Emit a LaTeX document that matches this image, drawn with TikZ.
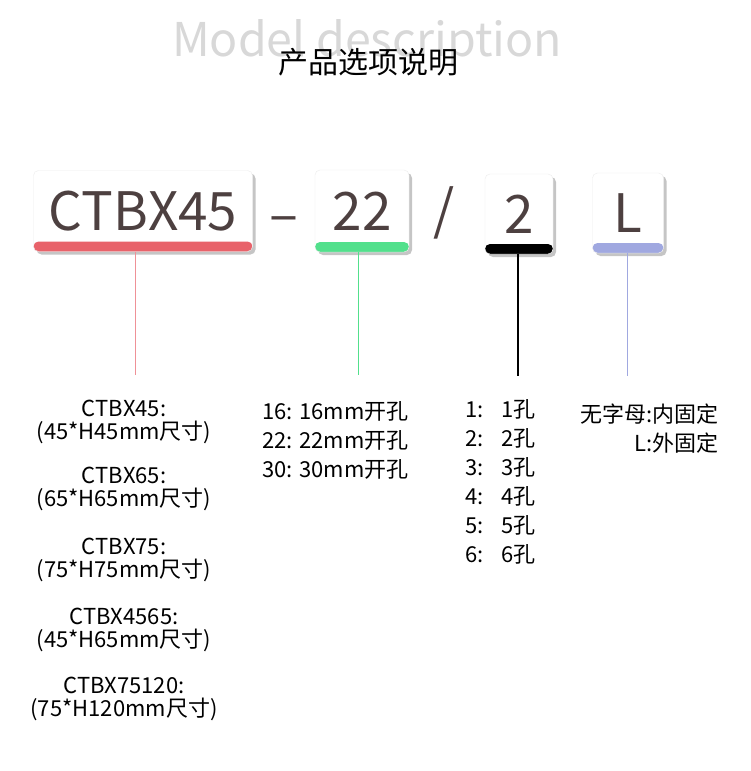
\documentclass[tikz,border=0pt]{standalone}
\usepackage{fontspec}
\setmainfont{Noto Sans CJK SC}
\usetikzlibrary{positioning,shadows}
\definecolor{tagred}{RGB}{232,98,106}
\definecolor{taggreen}{RGB}{82,224,140}
\definecolor{taglav}{RGB}{160,168,224}
\definecolor{tagtext}{RGB}{77,64,64}
\definecolor{faint}{RGB}{216,216,216}

\tikzset{
  tag/.style={draw=black!7,fill=white,rounded corners=5pt,inner sep=0pt,
    font=\fontsize{53}{60}\selectfont,text=tagtext,
    drop shadow={shadow xshift=3pt,shadow yshift=-3pt,opacity=0.45},
    path picture={\fill[#1] (path picture bounding box.south west)
      rectangle ([yshift=10pt]path picture bounding box.south east);}},
  sign/.style={font=\fontsize{54}{60}\selectfont,text=tagtext},
  lead/.style={line width=1pt},
  body/.style={font=\fontsize{22}{23}\selectfont,inner sep=0pt}
}

\begin{document}
\begin{tikzpicture}[x=1pt,y=-1pt]
  \useasboundingbox[fill=white] (0,0) rectangle (750,771);
  % headings
  \node[text=faint,font=\fontsize{46.5}{50}\selectfont,anchor=base] (engtitle) at (367,56) {Model description};
  \node[font=\fontsize{30}{32}\selectfont,anchor=base] (cntitle) at (368,73) {产品选项说明};
  % model code
  \node[tag=tagred,minimum width=219pt,minimum height=81pt] (series) at (143,211) {CTBX45};
  \node[sign] (dash) at (284,225) {–};
  \node[tag=taggreen,minimum width=94pt,minimum height=82pt] (hole) at (362,211) {22};
  \node[sign] (slash) at (444,213) {/};
  \node[tag=black,minimum width=68pt,minimum height=80pt] (count) at (519,214) {2};
  \node[tag=taglav,minimum width=71pt,minimum height=80pt] (mount) at (628,213) {L};
  % leaders
  \coordinate (seriesend) at (135,375);
  \coordinate (holeend) at (358,375);
  \coordinate (countend) at (518,376);
  \coordinate (mountend) at (627,376);
  \draw[lead,tagred!70] (seriesend |- series.south) -- (seriesend);
  \draw[lead,taggreen] (holeend |- hole.south) -- (holeend);
  \draw[lead,black,line width=1.8pt] (countend |- count.south) -- (countend);
  \draw[lead,taglav] (mountend |- mount.south) -- (mountend);
  % series sizes
  \foreach \name/\size/\y [count=\i] in {CTBX45/45*H45/422,CTBX65/65*H65/489,CTBX75/75*H75/560,CTBX4565/45*H65/630,CTBX75120/75*H120/699}
    \node[body,align=center] (size\i) at (124,\y) {\name:\\({\size}mm尺寸)};
  % hole sizes
  \foreach \d/\y in {16/411,22/440,30/469}
    \node[body,anchor=west] (dia\d) at (262,\y) {\d: {\d}mm开孔};
  % hole count
  \foreach \n in {1,...,6}
    \node[body,anchor=west] (num\n) at (465,{409+29*(\n-1)}) {\n:\hspace{0.8em}{\n}孔};
  % mounting
  \node[body,anchor=east] (inner) at (719,414) {无字母:内固定};
  \node[body,anchor=east] (outer) at (719,443) {L:外固定};
\end{tikzpicture}
\end{document}
